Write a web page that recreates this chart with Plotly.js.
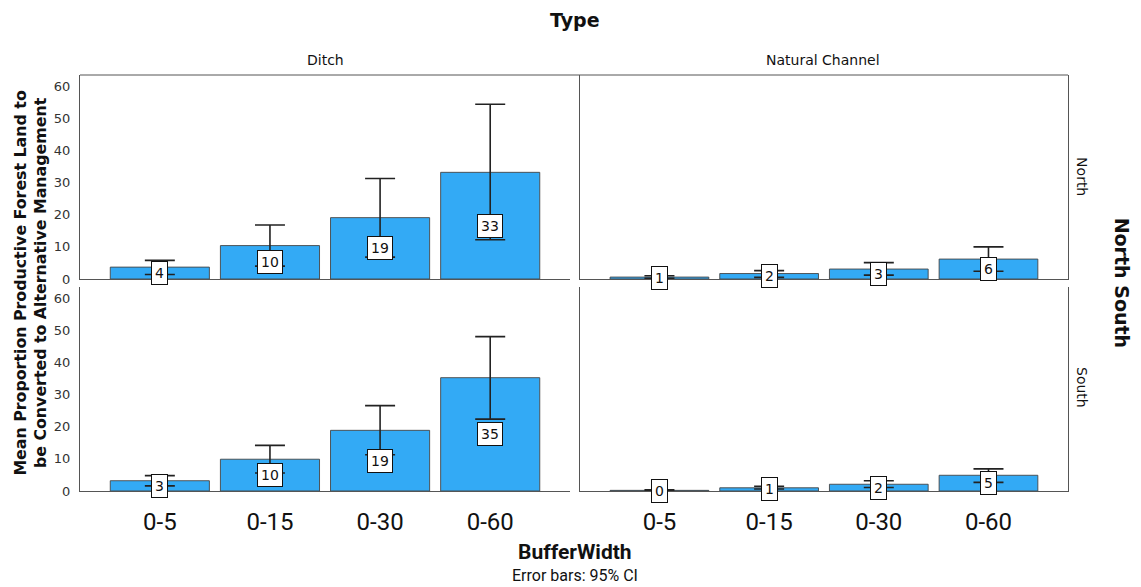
<!DOCTYPE html>
<html>
<head>
<meta charset="utf-8">
<script src="https://cdn.plot.ly/plotly-3.0.1.min.js"></script>
<style>html,body{margin:0;padding:0;background:#fff;}#chart{width:1141px;height:587px;}</style>
</head>
<body>
<div id="chart"></div>
<script>
// ---- data ----
const categories = ['0-5', '0-15', '0-30', '0-60'];

const ditchNorthMean = [3.7, 10.4, 19.1, 33.2];
const ditchNorthLow  = [1.4, 4.0, 6.8, 12.2];
const ditchNorthHigh = [5.8, 16.8, 31.3, 54.4];
const ditchNorthLabel = ['4', '10', '19', '33'];

const natNorthMean = [0.6, 1.7, 3.1, 6.2];
const natNorthLow  = [0.2, 0.5, 1.2, 2.4];
const natNorthHigh = [1.0, 2.6, 5.1, 10.0];
const natNorthLabel = ['1', '2', '3', '6'];

const ditchSouthMean = [3.2, 9.9, 18.9, 35.3];
const ditchSouthLow  = [1.6, 5.6, 11.3, 22.4];
const ditchSouthHigh = [4.8, 14.2, 26.6, 48.1];
const ditchSouthLabel = ['3', '10', '19', '35'];

const natSouthMean = [0.2, 1.0, 2.1, 4.9];
const natSouthLow  = [0.0, 0.6, 1.1, 2.7];
const natSouthHigh = [0.4, 1.5, 3.2, 6.9];
const natSouthLabel = ['0', '1', '2', '5'];

const yTicks = [0, 10, 20, 30, 40, 50, 60];

// ---- build ----
const barColor = 'rgb(51,170,245)';
const panels = [
  {mean: ditchNorthMean, lo: ditchNorthLow, hi: ditchNorthHigh, lab: ditchNorthLabel, xa: 'x',  ya: 'y'},
  {mean: natNorthMean,   lo: natNorthLow,   hi: natNorthHigh,   lab: natNorthLabel,   xa: 'x2', ya: 'y2'},
  {mean: ditchSouthMean, lo: ditchSouthLow, hi: ditchSouthHigh, lab: ditchSouthLabel, xa: 'x3', ya: 'y3'},
  {mean: natSouthMean,   lo: natSouthLow,   hi: natSouthHigh,   lab: natSouthLabel,   xa: 'x4', ya: 'y4'}
];

const traces = [];
const annotations = [];
panels.forEach(p => {
  traces.push({
    type: 'bar', x: categories, y: p.mean, xaxis: p.xa, yaxis: p.ya,
    width: 0.9,
    marker: {color: barColor, line: {color: 'rgba(70,70,70,0.9)', width: 1}},
    error_y: {
      type: 'data', symmetric: false,
      array: p.hi.map((h, i) => h - p.mean[i]),
      arrayminus: p.mean.map((m, i) => m - p.lo[i]),
      color: '#222', thickness: 1.6, width: 15
    },
    hoverinfo: 'none', showlegend: false
  });
  categories.forEach((c, i) => {
    annotations.push({
      x: c, y: p.mean[i] / 2, xref: p.xa, yref: p.ya,
      text: p.lab[i], showarrow: false,
      font: {family: 'DejaVu Sans', size: 14, color: '#111'},
      bgcolor: 'white', bordercolor: '#111', borderwidth: 1, borderpad: 3
    });
  });
});

const txt = (text, x, y, size, bold, angle, family) => ({
  text: bold ? '<b>' + text + '</b>' : text, x: x, y: y, xref: 'paper', yref: 'paper',
  showarrow: false, textangle: angle || 0, xanchor: 'center', yanchor: 'middle',
  font: {family: family || 'DejaVu Sans', size: size, color: '#111'}
});

annotations.push(txt('Type', 0.501, 1.132, 19, true));
annotations.push(txt('Ditch', 0.248, 1.036, 14, false));
annotations.push(txt('Natural Channel', 0.752, 1.036, 14, false));
annotations.push(txt('North', 1.014, 0.755, 14, false, 90));
annotations.push(txt('South', 1.014, 0.248, 14, false, 90));
annotations.push(txt('North South', 1.055, 0.5, 19, true, 90));
annotations.push(txt('Mean Proportion Productive Forest Land to<br>be Converted to Alternative Management', -0.05, 0.5, 15.8, true, -90));
annotations.push(txt('BufferWidth', 0.501, -0.147, 21, true, 0, 'Roboto, sans-serif'));
annotations.push(txt('Error bars: 95% CI', 0.501, -0.204, 16, false, 0, 'Roboto, sans-serif'));

const xRange = [-0.725, 3.725];
const yRange = [0, 63.5];
const lineCol = '#555';
const xBase = {
  type: 'category', range: xRange, showgrid: false, zeroline: false,
  showline: true, linecolor: lineCol, linewidth: 1,
  ticks: 'outside', ticklen: 9, tickcolor: 'rgba(0,0,0,0)',
  tickfont: {family: 'Roboto, sans-serif', size: 24, color: '#111'}
};
const yBase = {
  range: yRange, tickvals: yTicks, showgrid: false, zeroline: false,
  showline: true, linecolor: lineCol, linewidth: 1,
  ticks: 'outside', ticklen: 6, tickcolor: 'rgba(0,0,0,0)',
  tickfont: {family: 'DejaVu Sans', size: 13, color: '#333'}
};

const layout = {
  width: 1141, height: 587,
  margin: {l: 80, r: 73, t: 75, b: 96},
  paper_bgcolor: 'white', plot_bgcolor: 'white',
  showlegend: false,
  xaxis:  Object.assign({}, xBase, {domain: [0, 0.496], anchor: 'y', showticklabels: false}),
  xaxis2: Object.assign({}, xBase, {domain: [0.506, 1], anchor: 'y2', showticklabels: false}),
  xaxis3: Object.assign({}, xBase, {domain: [0, 0.496], anchor: 'y3'}),
  xaxis4: Object.assign({}, xBase, {domain: [0.506, 1], anchor: 'y4'}),
  yaxis:  Object.assign({}, yBase, {domain: [0.5096, 1], anchor: 'x'}),
  yaxis2: Object.assign({}, yBase, {domain: [0.5096, 1], anchor: 'x2', showticklabels: false, mirror: true}),
  yaxis3: Object.assign({}, yBase, {domain: [0, 0.49], anchor: 'x3'}),
  yaxis4: Object.assign({}, yBase, {domain: [0, 0.49], anchor: 'x4', showticklabels: false, mirror: true}),
  annotations: annotations,
  shapes: [
    {type: 'line', xref: 'paper', yref: 'paper', x0: 0, x1: 1, y0: 1, y1: 1, line: {color: lineCol, width: 1}}
  ]
};

Plotly.newPlot('chart', traces, layout, {displayModeBar: false, staticPlot: true});
</script>
</body>
</html>
